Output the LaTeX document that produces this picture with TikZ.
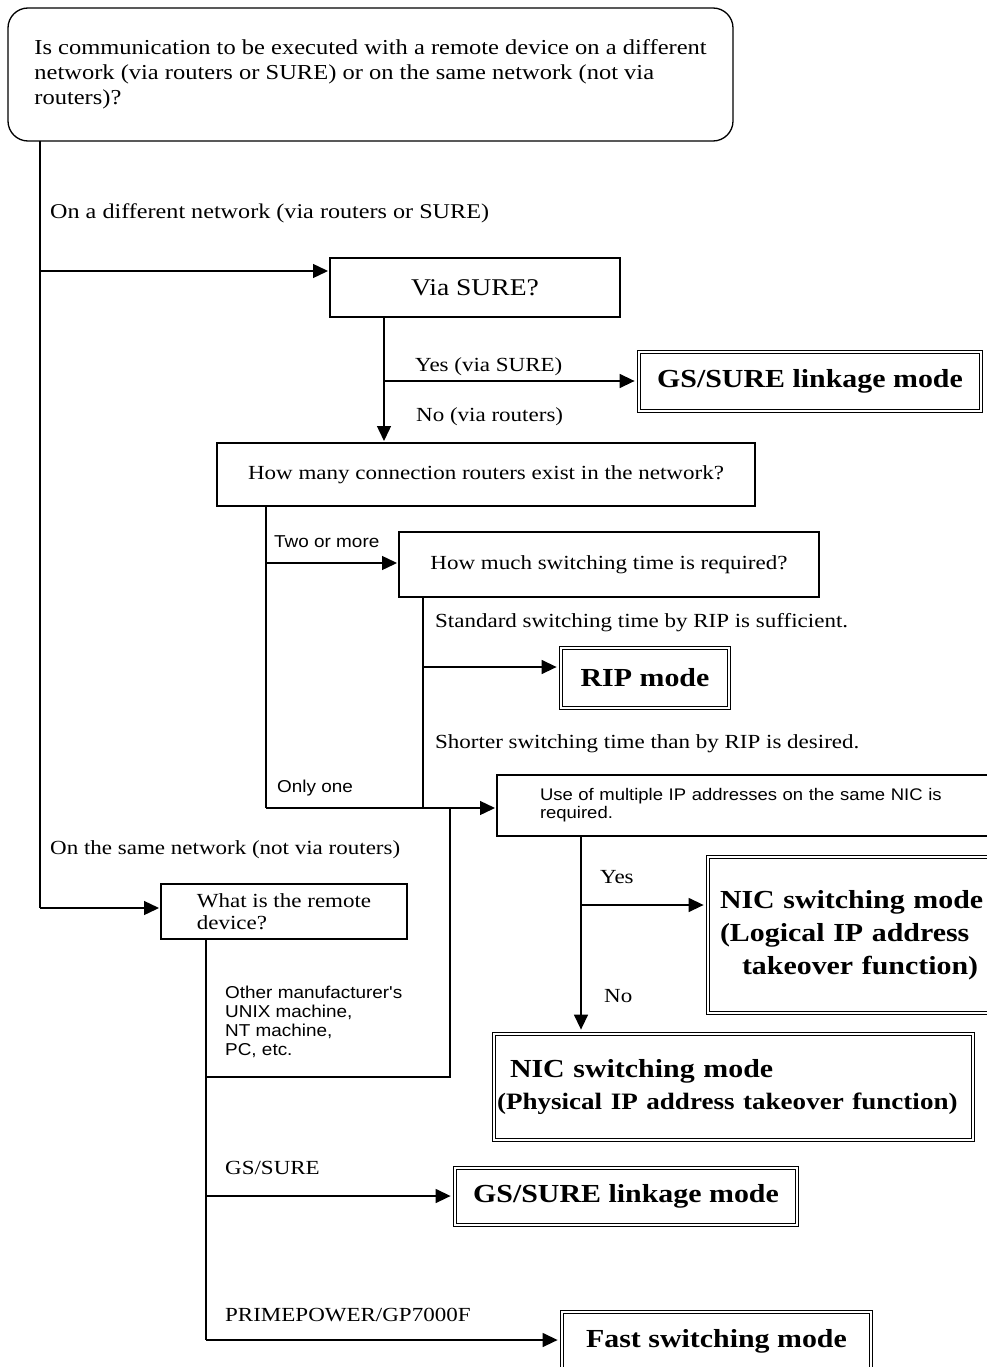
\documentclass[tikz,border=0pt]{standalone}
\usepackage{fontspec}
\usetikzlibrary{arrows.meta}
\newfontfamily\jserif[FakeStretch=1.15]{Liberation Serif}
\newfontfamily\jsans[FakeStretch=1.1]{Liberation Sans}
\newcommand{\fs}[2]{\fontsize{#1}{#2}\selectfont}

\tikzset{
  conn/.style={line width=1.4pt},
  arr/.style={line width=1.4pt, shorten >=2pt, -{Triangle[length=15pt,width=14pt]}},
  qbox/.style={draw, line width=1.3pt, inner sep=0pt, outer sep=0pt,
    font=\jserif\fs{20}{25}},
  mbox/.style={draw, double, double distance=2.6pt, line width=1.1pt,
    inner sep=0pt, outer sep=2.4pt, font=\jserif\bfseries\fs{26}{30}},
  lab/.style={inner sep=0pt, anchor=west, font=\jserif\fs{20}{24}},
  slab/.style={inner sep=0pt, anchor=west, align=left, font=\jsans\fs{17.2}{19}},
}

\begin{document}
\begin{tikzpicture}[x=1pt, y=-1pt]
\path[use as bounding box, fill=white] (0,0) rectangle (986,1367);

% question and decision boxes
\node[qbox, rounded corners=20pt, minimum width=725pt, minimum height=133pt, align=left,
      font=\jserif\fs{21.3}{25}] (q0) at (370.5,74.5)
  {Is communication to be executed with a remote device on a different\\
   network (via routers or SURE) or on the same network (not via\\
   routers)?};
\node[qbox, minimum width=290pt, minimum height=59pt, font=\jserif\fs{24}{28}] (via) at (475,287.5) {Via SURE?};
\node[qbox, minimum width=538pt, minimum height=63pt] (many) at (486,474.5)
  {How many connection routers exist in the network?};
\node[qbox, minimum width=420pt, minimum height=65pt] (much) at (609,564.5)
  {How much switching time is required?};
\node[qbox, minimum width=503pt, minimum height=61pt, text width=417pt, align=left,
      font=\jsans\fs{16.8}{18}] (nicq) at (748.5,805.5)
  {\mbox{Use of multiple IP addresses on the same NIC is}\\required.};
\node[qbox, minimum width=246pt, minimum height=55pt, align=left, font=\jserif\fs{20}{22}] (remote) at (284,911.5)
  {What is the remote\\device?};

% resulting modes
\node[mbox] (gs1) at (810,381.5) [minimum width=342pt, minimum height=59pt] {GS/SURE linkage mode};
\node[mbox] (rip) at (645,678) [minimum width=168pt, minimum height=60pt] {RIP mode};
\node[mbox, minimum width=294pt, minimum height=156pt, text width=270pt, align=left,
      font=\jserif\bfseries\fs{26}{33}] (nicl) at (855,935)
  {\mbox{NIC switching mode}\\\mbox{(Logical IP address}\\\mbox{\hspace{22pt}takeover function)}};
\node[mbox, minimum width=479pt, minimum height=106pt, text width=473pt, align=left,
      font=\jserif\bfseries\fs{26}{32}] (nicp) at (733.5,1087)
  {\mbox{\hspace{13pt}NIC switching mode}\\\mbox{\fs{23.5}{32}(Physical IP address takeover function)}};
\node[mbox] (gs2) at (626,1196.5) [minimum width=342pt, minimum height=57pt] {GS/SURE linkage mode};
\node[mbox] (fast) at (716.5,1341) [minimum width=309pt, minimum height=58pt] {Fast switching mode};

% branch labels
\node[lab, font=\jserif\fs{21}{24}] (ldiff) at (50,213) {On a different network (via routers or SURE)};
\node[lab] (lyes1) at (415,367) {Yes (via SURE)};
\node[lab] (lno1) at (416,417) {No (via routers)};
\node[slab] (ltwo) at (274,542) {Two or more};
\node[lab] (lstd) at (435,623) {Standard switching time by RIP is sufficient.};
\node[lab] (lshort) at (435,744) {Shorter switching time than by RIP is desired.};
\node[slab] (lone) at (277,788) {Only one};
\node[lab] (lsame) at (50,850) {On the same network (not via routers)};
\node[lab] (lyes2) at (600,877) {Yes};
\node[lab] (lno2) at (604,996) {No};
\node[slab] (lother) at (225,1021.5) {Other manufacturer's\\UNIX machine,\\NT machine,\\PC, etc.};
\node[lab] (lgs) at (225,1168) {GS/SURE};
\node[lab] (lprime) at (225,1315) {PRIMEPOWER/GP7000F};

% junction points of the connector tree
\coordinate (jA) at (40,271);
\coordinate (jB) at (40,908);
\coordinate (jC) at (384,381);
\coordinate (jD) at (266,563);
\coordinate (jE) at (266,808);
\coordinate (jF) at (423,667);
\coordinate (jG) at (423,808);
\coordinate (jH) at (450,808);
\coordinate (jI) at (450,1077);
\coordinate (jJ) at (206,1077);
\coordinate (jK) at (206,1196);
\coordinate (jL) at (206,1340);
\coordinate (jM) at (581,905);

% connectors
\draw[conn] (q0.south -| jA) -- (jB);
\draw[arr] (jA) -- (jA -| via.west);
\draw[arr] (jB) -- (jB -| remote.west);

\draw[conn] (via.south -| jC) -- (jC);
\draw[arr] (jC) -- (jC -| gs1.west);
\draw[arr] (jC) -- (jC |- many.north);

\draw[conn] (many.south -| jD) -- (jE);
\draw[arr] (jD) -- (jD -| much.west);
\draw[conn] (much.south -| jF) -- (jG);
\draw[arr] (jF) -- (jF -| rip.west);
\draw[arr] (jE) -- (jE -| nicq.west);

\draw[conn] (nicq.south -| jM) -- (jM);
\draw[arr] (jM) -- (jM -| nicl.west);
\draw[arr] (jM) -- (jM |- nicp.north);

\draw[conn] (remote.south -| jL) -- (jL);
\draw[conn] (jJ) -- (jI) -- (jH);
\draw[arr] (jK) -- (jK -| gs2.west);
\draw[arr] (jL) -- (jL -| fast.west);
\end{tikzpicture}
\end{document}
